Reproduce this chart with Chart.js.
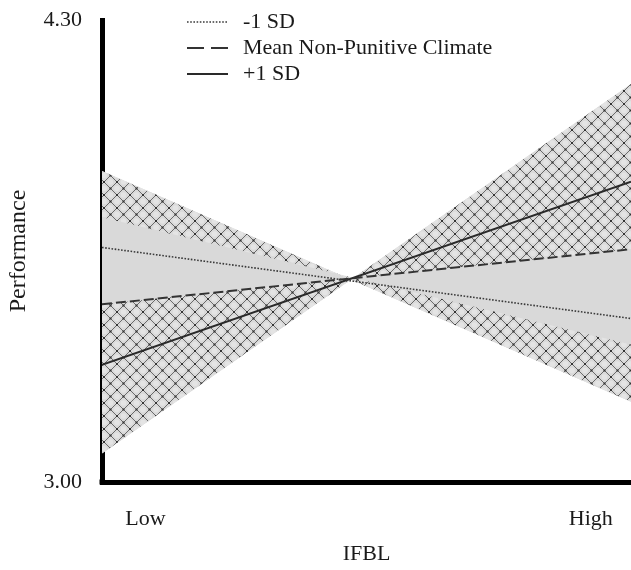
<!DOCTYPE html>
<html>
<head>
<meta charset="utf-8">
<script src="https://cdn.jsdelivr.net/npm/chart.js@4/dist/chart.umd.min.js"></script>
<style>
  html, body { margin: 0; padding: 0; background: #fff; }
  #wrap { width: 631px; height: 570px; }
</style>
</head>
<body>
<div id="wrap"><canvas id="chart" width="631" height="570"></canvas></div>
<script>
// Simple slopes plot: IFBL (Low/High) x Performance, moderated by non-punitive climate

var X_ENDS = [0, 1];                       // Low end, High end of IFBL
var MINUS_SD = [3.66, 3.46];               // -1 SD
var MEAN_CLIMATE = [3.50, 3.655];          // Mean Non-Punitive Climate
var PLUS_SD = [3.33, 3.845];               // +1 SD
var BAND_INNER = [3.745, 3.387];           // edge of the plain grey region
var BAND_RISING = [3.08, 4.12];            // outer envelope, rising edge
var BAND_FALLING = [3.875, 3.226];         // outer envelope, falling edge

var Y_TICKS = [3.00, 4.30];
var X_TICK_LABELS = ['Low', 'High'];
var X_TICK_AT = [0.082, 0.924];

var SERIF = "'Liberation Serif', 'Times New Roman', serif";
var TEXT_COLOR = '#1a1a1a';
var GREY_FILL = '#d9d9d9';

function pts(ys) {
  return ys.map(function (y, i) { return { x: X_ENDS[i], y: y }; });
}

// crosshatch lattice pattern (diagonal net with small round cells)
function makeHatch() {
  var s = 13;
  var c = document.createElement('canvas');
  c.width = s; c.height = s;
  var g = c.getContext('2d');
  g.fillStyle = GREY_FILL;
  g.fillRect(0, 0, s, s);
  g.strokeStyle = '#6a6a6a';
  g.lineWidth = 1;
  g.beginPath();
  g.moveTo(0, 0); g.lineTo(s, s);
  g.moveTo(s, 0); g.lineTo(0, s);
  g.stroke();
  g.fillStyle = '#e4e4e4';
  [[s / 2, 0], [0, s / 2], [s, s / 2], [s / 2, s]].forEach(function (p) {
    g.beginPath();
    g.arc(p[0], p[1], 2.8, 0, Math.PI * 2);
    g.fill();
  });
  g.fillStyle = '#333';
  [[0, 0], [s, 0], [0, s], [s, s], [s / 2, s / 2]].forEach(function (p) {
    g.fillRect(p[0] - 1, p[1] - 1, 2, 2);
  });
  return g.createPattern(c, 'repeat');
}

var hatch = makeHatch();
var CLEAR = 'rgba(0,0,0,0)';

function lineSet(label, data, dash, width, color) {
  return {
    label: label, data: pts(data), borderColor: color, borderWidth: width,
    borderDash: dash, pointRadius: 0, fill: false, showInLegend: true, tension: 0
  };
}
function bandSet(data, target, bg) {
  return {
    label: '', data: pts(data), borderColor: CLEAR, borderWidth: 1,
    pointRadius: 0, fill: target === null ? false : { target: target },
    backgroundColor: bg, tension: 0
  };
}

var datasets = [
  lineSet('-1 SD', MINUS_SD, [1.6, 1.6], 1.6, '#3a3a3a'),
  lineSet('Mean Non-Punitive Climate', MEAN_CLIMATE, [10, 4], 2, '#333'),
  lineSet('+1 SD', PLUS_SD, [], 2, '#2a2a2a'),
  bandSet(BAND_INNER, 5, hatch),
  bandSet(BAND_RISING, 5, GREY_FILL),
  bandSet(BAND_FALLING, null, CLEAR)
];
// mean line also carries the hatch between itself and the rising edge
datasets[1].fill = { target: 4 };
datasets[1].backgroundColor = hatch;

var LEGEND_DASH = [[1.6, 1.6], [17, 7], []];

var legendPlugin = {
  id: 'stackedLegend',
  afterDraw: function (chart) {
    var ctx = chart.ctx;
    ctx.save();
    // close the corner where the two axis lines meet
    var a = chart.chartArea;
    ctx.fillStyle = '#000';
    ctx.fillRect(a.left - 2.5, a.bottom - 2.5, 5, 5);

    ctx.font = '22px ' + SERIF;
    ctx.textBaseline = 'middle';
    var x0 = 187, x1 = 228, tx = 243, y = 22, step = 26;
    var k = 0;
    chart.data.datasets.forEach(function (ds) {
      if (!ds.showInLegend) return;
      ctx.strokeStyle = ds.borderColor;
      ctx.lineWidth = ds.borderWidth;
      ctx.setLineDash(LEGEND_DASH[k]);
      ctx.beginPath();
      ctx.moveTo(x0, y + k * step);
      ctx.lineTo(x1, y + k * step);
      ctx.stroke();
      ctx.setLineDash([]);
      ctx.fillStyle = TEXT_COLOR;
      ctx.fillText(ds.label, tx, y + k * step);
      k++;
    });
    ctx.restore();
  }
};

new Chart(document.getElementById('chart'), {
  type: 'line',
  data: { datasets: datasets },
  options: {
    responsive: false,
    animation: false,
    parsing: true,
    layout: { padding: { top: 20, right: 0, left: 0, bottom: 0 } },
    scales: {
      x: {
        type: 'linear', min: 0, max: 1,
        afterFit: function (s) { s.height = 88; s.paddingLeft = 0; s.paddingRight = 0; },
        afterBuildTicks: function (s) {
          s.ticks = X_TICK_AT.map(function (v) { return { value: v }; });
        },
        ticks: {
          autoSkip: false, maxRotation: 0, minRotation: 0, padding: 24,
          color: TEXT_COLOR, font: { family: SERIF, size: 22 },
          callback: function (v, i) { return X_TICK_LABELS[i]; }
        },
        grid: { display: false, drawTicks: false },
        border: { display: true, width: 5, color: '#000' },
        title: {
          display: true, text: 'IFBL', color: TEXT_COLOR,
          font: { family: SERIF, size: 22 }, padding: { top: 0, bottom: 3 }
        }
      },
      y: {
        type: 'linear', min: 3.0, max: 4.3,
        afterFit: function (s) { s.width = 102; s.paddingTop = 0; s.paddingBottom = 0; },
        afterBuildTicks: function (s) {
          s.ticks = Y_TICKS.map(function (v) { return { value: v }; });
        },
        ticks: {
          padding: 20, color: TEXT_COLOR, font: { family: SERIF, size: 22 },
          callback: function (v) { return Number(v).toFixed(2); }
        },
        grid: { display: false, drawTicks: false },
        border: { display: true, width: 5, color: '#000' },
        title: {
          display: true, text: 'Performance', color: TEXT_COLOR,
          font: { family: SERIF, size: 24 }, padding: { top: 4, bottom: 0 }
        }
      }
    },
    plugins: {
      legend: { display: false },
      tooltip: { enabled: false },
      filler: { drawTime: 'beforeDatasetsDraw', propagate: false }
    }
  },
  plugins: [legendPlugin]
});
</script>
</body>
</html>
